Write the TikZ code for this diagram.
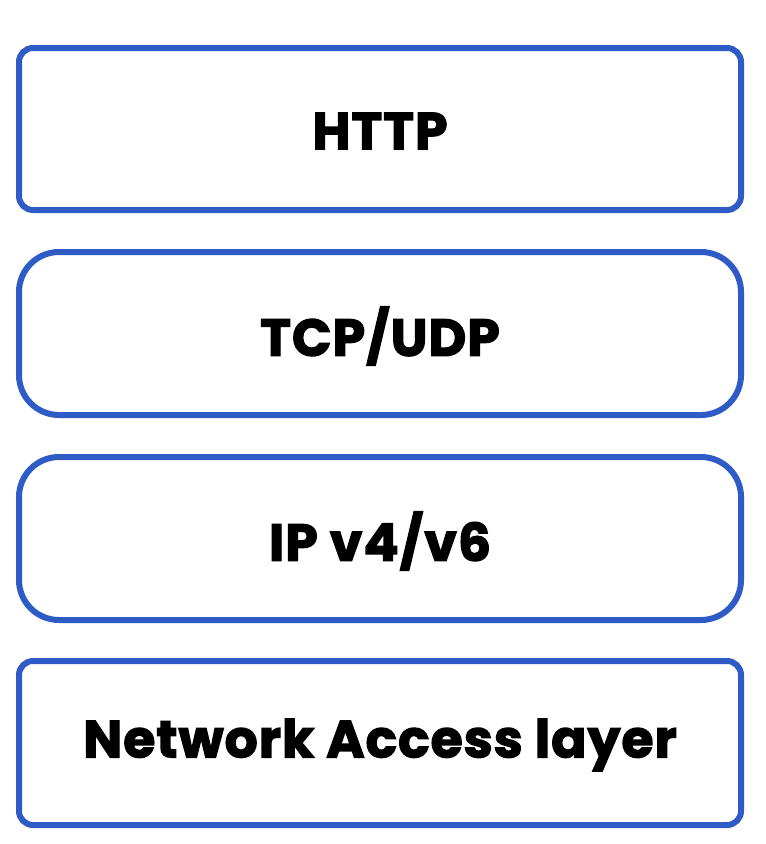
\documentclass[tikz,border=0pt]{standalone}
\usepackage{fontspec}
\setmainfont{Poppins}[BoldFeatures={FakeBold=2.5,LetterSpace=2}]
\definecolor{layerblue}{HTML}{2E5BC5}
\begin{document}
\begin{tikzpicture}[x=1pt,y=-1pt,
  layerbox/.style={draw=layerblue,line width=6pt,fill=white},
  layertext/.style={font=\fontsize{52}{56}\selectfont\bfseries,text=black}]
\useasboundingbox (0,0) rectangle (766,844);
\draw[layerbox,rounded corners=14pt] (19,48) rectangle (741,210);
\draw[layerbox,rounded corners=40pt] (19,252) rectangle (741,415);
\draw[layerbox,rounded corners=40pt] (19,457) rectangle (741,620);
\draw[layerbox,rounded corners=14pt] (19,661) rectangle (741,825);
\node[layertext] (http) at (380,131) {HTTP};
\node[layertext] (tcp) at (380,336) {TCP/UDP};
\node[layertext] (ip) at (380,541) {IP v4/v6};
\node[layertext] (net) at (380,745) {Network Access layer};
\end{tikzpicture}
\end{document}
